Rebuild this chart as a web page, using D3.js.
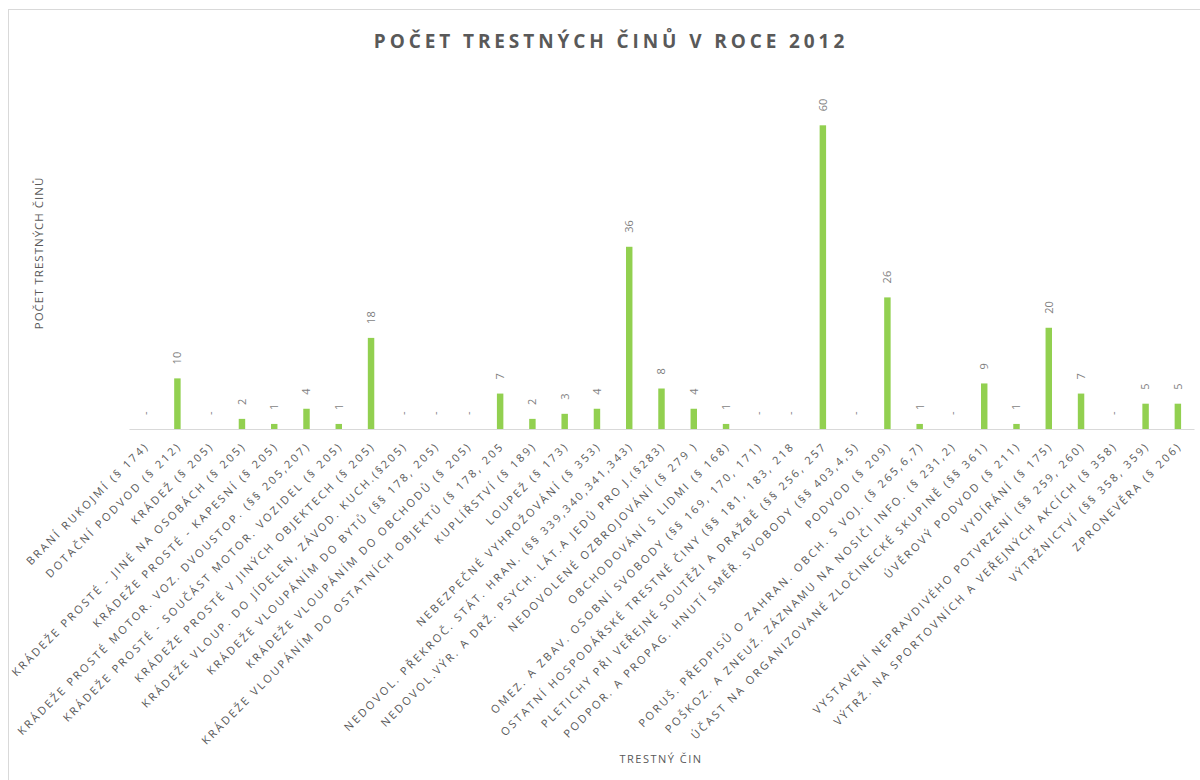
<!DOCTYPE html>
<html>
<head>
<meta charset="utf-8">
<script src="https://cdn.jsdelivr.net/npm/d3@7"></script>
<style>
  body { margin: 0; background: #fff; }
  svg { display: block; }
</style>
</head>
<body>
<svg id="chart" width="1200" height="780"></svg>
<script>
// trestné činy (kategorie na ose x)
const categories = [
  "BRANÍ RUKOJMÍ (§ 174)",
  "DOTAČNÍ PODVOD (§ 212)",
  "KRÁDEŽ (§ 205)",
  "KRÁDEŽE PROSTÉ - JINÉ NA OSOBÁCH (§ 205)",
  "KRÁDEŽE PROSTÉ - KAPESNÍ (§ 205)",
  "KRÁDEŽE PROSTÉ  MOTOR. VOZ. DVOUSTOP. (§§ 205,207)",
  "KRÁDEŽE PROSTÉ - SOUČÁST MOTOR. VOZIDEL (§ 205)",
  "KRÁDEŽE PROSTÉ V JINÝCH OBJEKTECH (§ 205)",
  "KRÁDEŽE VLOUP. DO JÍDELEN, ZÁVOD. KUCH.(§205)",
  "KRÁDEŽE VLOUPÁNÍM DO BYTŮ (§§ 178, 205)",
  "KRÁDEŽE VLOUPÁNÍM DO OBCHODŮ (§ 205)",
  "KRÁDEŽE VLOUPÁNÍM DO OSTATNÍCH OBJEKTŮ (§ 178, 205",
  "KUPLÍŘSTVÍ (§ 189)",
  "LOUPEŽ (§ 173)",
  "NEBEZPEČNÉ VYHROŽOVÁNÍ (§ 353)",
  "NEDOVOL. PŘEKROČ. STÁT. HRAN. (§§ 339,340,341,343)",
  "NEDOVOL.VÝR. A DRŽ. PSYCH. LÁT.A JEDŮ PRO J.(§283)",
  "NEDOVOLENÉ OZBROJOVÁNÍ (§ 279 )",
  "OBCHODOVÁNÍ S LIDMI (§ 168)",
  "OMEZ. A ZBAV. OSOBNÍ SVOBODY (§§ 169, 170, 171)",
  "OSTATNÍ HOSPODÁŘSKÉ TRESTNÉ ČINY (§§ 181, 183, 218",
  "PLETICHY PŘI VEŘEJNÉ SOUTĚŽI A DRAŽBĚ (§§ 256, 257",
  "PODPOR. A PROPAG. HNUTÍ SMĚŘ. SVOBODY (§§ 403,4,5)",
  "PODVOD (§ 209)",
  "PORUŠ. PŘEDPISŮ O ZAHRAN. OBCH. S VOJ. (§ 265,6,7)",
  "POŠKOZ. A ZNEUŽ. ZÁZNAMU NA NOSIČI INFO. (§ 231,2)",
  "ÚČAST NA ORGANIZOVANÉ ZLOČINECKÉ SKUPINĚ (§§ 361)",
  "ÚVĚROVÝ PODVOD (§ 211)",
  "VYDÍRÁNÍ (§ 175)",
  "VYSTAVENÍ NEPRAVDIVÉHO POTVRZENÍ (§§ 259, 260)",
  "VÝTRŽ. NA SPORTOVNÍCH A VEŘEJNÝCH AKCÍCH (§ 358)",
  "VÝTRŽNICTVÍ (§§ 358, 359)",
  "ZPRONEVĚRA (§ 206)"
];

// počty v roce 2012
const counts = [0, 10, 0, 2, 1, 4, 1, 18, 0, 0, 0, 7, 2, 3, 4, 36, 8, 4, 1, 0, 0, 60, 0, 26, 1, 0, 9, 1, 20, 7, 0, 5, 5];

const yMax = 65;

const svg = d3.select("#chart");
const font = "'Open Sans', 'DejaVu Sans', sans-serif";

// rámeček grafu
svg.append("rect")
  .attr("x", 8.5).attr("y", 9.5)
  .attr("width", 1300).attr("height", 900)
  .attr("fill", "none")
  .attr("stroke", "#d9d9d9");

const x = d3.scaleBand()
  .domain(categories)
  .range([129, 1194])
  .paddingInner(0.8)
  .paddingOuter(0.4);

const y = d3.scaleLinear()
  .domain([0, yMax])
  .range([429, 100]);

// titulek
svg.append("text")
  .attr("x", 611).attr("y", 48)
  .attr("text-anchor", "middle")
  .attr("font-family", font)
  .attr("font-size", 19)
  .attr("font-weight", "bold")
  .attr("letter-spacing", 3.9)
  .attr("fill", "#595959")
  .text("POČET TRESTNÝCH ČINŮ V ROCE 2012");

// sloupce
svg.append("g")
  .selectAll("rect")
  .data(counts)
  .join("rect")
    .attr("x", (d, i) => x(categories[i]))
    .attr("y", d => y(d))
    .attr("width", x.bandwidth())
    .attr("height", d => y(0) - y(d))
    .attr("fill", "#92d050");

// popisky hodnot
svg.append("g")
  .selectAll("text")
  .data(counts)
  .join("text")
    .attr("transform", (d, i) =>
      `translate(${x(categories[i]) + x.bandwidth() / 2},${y(d) - 14}) rotate(-90)`)
    .attr("dy", "0.35em")
    .attr("font-family", font)
    .attr("font-size", 11)
    .attr("fill", "#7f7f7f")
    .text(d => d === 0 ? "-" : d);

// osa x
const xAxis = svg.append("g")
  .attr("transform", `translate(0,${y(0)})`)
  .call(d3.axisBottom(x).tickSize(0).tickSizeOuter(0));

xAxis.select(".domain").attr("stroke", "#d9d9d9");
xAxis.selectAll(".tick text")
  .attr("x", 0).attr("y", 0).attr("dy", "0.35em")
  .attr("transform", "translate(2,15) rotate(-45)")
  .attr("text-anchor", "end")
  .attr("font-family", font)
  .attr("font-size", 11)
  .attr("letter-spacing", 2.4)
  .attr("fill", "#595959");

// názvy os
svg.append("text")
  .attr("transform", "translate(43,253) rotate(-90)")
  .attr("text-anchor", "middle")
  .attr("font-family", font)
  .attr("font-size", 11.5)
  .attr("letter-spacing", 1)
  .attr("fill", "#595959")
  .text("POČET TRESTNÝCH ČINŮ");

svg.append("text")
  .attr("x", 661).attr("y", 763)
  .attr("text-anchor", "middle")
  .attr("font-family", font)
  .attr("font-size", 11)
  .attr("letter-spacing", 1.5)
  .attr("fill", "#595959")
  .text("TRESTNÝ ČIN");
</script>
</body>
</html>
